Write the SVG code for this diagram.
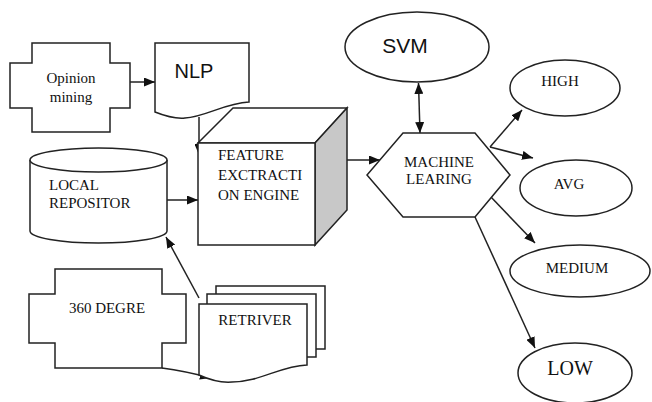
<svg xmlns="http://www.w3.org/2000/svg" width="652" height="402" viewBox="0 0 652 402">
  <defs>
    <marker id="arrow" viewBox="0 0 11 9" refX="11" refY="4.5" markerWidth="11" markerHeight="9" markerUnits="userSpaceOnUse" orient="auto-start-reverse">
      <path d="M0,0 L11,4.5 L0,9 Z" fill="#111"/>
    </marker>
    <style>
      .shape { fill: #fff; stroke: #222; stroke-width: 1.5; }
      .side { fill: #c8c8c8; stroke: #222; stroke-width: 1.5; }
      .edge { fill: none; stroke: #222; stroke-width: 1.5; marker-end: url(#arrow); }
    </style>
  </defs>
  <rect width="652" height="402" fill="#fff"/>

  <!-- connectors -->
  <g id="connectors">
    <path class="edge" d="M130,82 H155"/>
    <path class="edge" d="M199,117 V155"/>
    <path class="edge" d="M167,200 H198"/>
    <path class="edge" d="M199,298 L166,237"/>
    <path class="edge" d="M162,368 Q185,371 211,378"/>
    <path class="edge" d="M347,160 H380"/>
    <path class="edge" d="M418.5,83 L420,133" style="marker-start:url(#arrow)"/>
    <path class="edge" d="M490,147 L522,110"/>
    <path class="edge" d="M490,147 L533,158"/>
    <path class="edge" d="M490,196 L535,243"/>
    <path class="edge" d="M475,217 L535,348"/>
  </g>

  <!-- serif labels share one font setting -->
  <g font-family="'Liberation Serif', 'DejaVu Serif', serif" font-size="15" fill="#111">
    <g id="opinion-mining">
      <path class="shape" d="M32,43 H110 V63 H130 V108 H110 V132 H32 V108 H10 V63 H32 Z"/>
      <text x="71" y="83" text-anchor="middle">Opinion</text>
      <text x="71" y="102" text-anchor="middle">mining</text>
    </g>

    <g id="nlp">
      <path class="shape" d="M155,43 H249 V102 C225,103 205,117 185,118 C175,119 165,116 155,112 Z"/>
      <text x="194" y="78" font-family="'Liberation Sans', Arial, sans-serif" font-size="20" text-anchor="middle">NLP</text>
    </g>

    <g id="local-repository">
      <path class="shape" d="M30,160 V231 A68.5,12 0 0 0 167,231 V160"/>
      <ellipse class="shape" cx="98.5" cy="160" rx="68.5" ry="12"/>
      <text x="49" y="190">LOCAL</text>
      <text x="49" y="208">REPOSITOR</text>
    </g>

    <g id="feature-extraction-engine">
      <polygon class="shape" points="198,143 233,108 347,108 315,143"/>
      <polygon class="side" points="315,143 347,108 347,210 315,245"/>
      <rect class="shape" x="198" y="143" width="117" height="102"/>
      <text x="218" y="160">FEATURE</text>
      <text x="218" y="180">EXCTRACTI</text>
      <text x="218" y="200">ON ENGINE</text>
    </g>

    <g id="degree-360">
      <path class="shape" d="M55,269 H162 V294 H186 V343 H162 V368 H55 V343 H29 V294 H55 Z"/>
      <text x="107" y="313" text-anchor="middle">360 DEGRE</text>
    </g>

    <g id="retriver">
      <rect class="shape" x="216" y="286" width="109" height="63"/>
      <rect class="shape" x="207" y="294" width="109" height="63"/>
      <path class="shape" d="M199,304 H307 V365 C280,366 260,382 232,382 C220,383 210,380 199,375 Z"/>
      <text x="255" y="325" text-anchor="middle">RETRIVER</text>
    </g>

    <g id="svm">
      <ellipse class="shape" cx="417" cy="47" rx="72" ry="35"/>
      <text x="405" y="53" font-family="'Liberation Sans', Arial, sans-serif" font-size="21" text-anchor="middle">SVM</text>
    </g>

    <g id="machine-learing">
      <polygon class="shape" points="403,133 475,133 510,175 475,217 403,217 367,175"/>
      <text x="439" y="167" text-anchor="middle">MACHINE</text>
      <text x="439" y="184" text-anchor="middle">LEARING</text>
    </g>

    <g id="high">
      <ellipse class="shape" cx="565" cy="88" rx="55" ry="28"/>
      <text x="560" y="86" text-anchor="middle">HIGH</text>
    </g>

    <g id="avg">
      <ellipse class="shape" cx="576" cy="188" rx="56" ry="28"/>
      <text x="569" y="189" text-anchor="middle">AVG</text>
    </g>

    <g id="medium">
      <ellipse class="shape" cx="580" cy="271" rx="70" ry="26"/>
      <text x="577" y="273" text-anchor="middle">MEDIUM</text>
    </g>

    <g id="low">
      <ellipse class="shape" cx="575" cy="373" rx="57" ry="30"/>
      <text x="570" y="375" font-size="20" text-anchor="middle">LOW</text>
    </g>
  </g>
</svg>
